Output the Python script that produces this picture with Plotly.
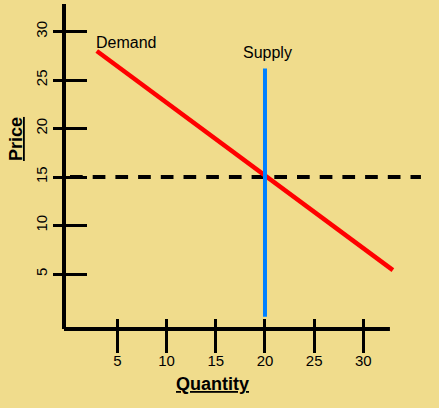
import plotly.graph_objects as go

# ---- data ----
tick_vals = [5, 10, 15, 20, 25, 30]
tick_text = ["5", "10", "15", "20", "25", "30"]

demand_q = [2.9, 33.0]
demand_p = [28.0, 5.4]

supply_q = [20, 20]
supply_p = [0.6, 26.2]

eq_price = 15
eq_line_q = [0.18, 35.85]

x_range = [-0.43, 35.96]
y_range = [-0.67, 32.84]
x_axis_end = 32.7

BG = "#F0DC8C"
FONT = "Liberation Sans, Arial, sans-serif"

fig = go.Figure()

fig.add_trace(go.Scatter(x=eq_line_q, y=[eq_price, eq_price], mode="lines",
                         line=dict(color="black", width=4, dash="12.7px,10px"),
                         showlegend=False, hoverinfo="skip"))
fig.add_trace(go.Scatter(x=demand_q, y=demand_p, mode="lines",
                         line=dict(color="#FF0000", width=4.5),
                         showlegend=False, hoverinfo="skip"))
fig.add_trace(go.Scatter(x=supply_q, y=supply_p, mode="lines",
                         line=dict(color="#0080FF", width=4),
                         showlegend=False, hoverinfo="skip"))
# dummy trace for the overlay axes (inner tick halves)
fig.add_trace(go.Scatter(x=[None], y=[None], xaxis="x2", yaxis="y2",
                         showlegend=False, hoverinfo="skip"))

axis_common = dict(showgrid=False, zeroline=False, showline=False, automargin=False,
                   tickmode="array", tickvals=tick_vals, ticktext=tick_text,
                   tickcolor="black", tickwidth=3,
                   tickfont=dict(family=FONT, size=15, color="black"))

fig.update_layout(
    template="none",
    width=439, height=408,
    margin=dict(l=64, r=17, t=4, b=79, pad=0),
    paper_bgcolor=BG, plot_bgcolor=BG,
    font=dict(family=FONT, color="black"),
    xaxis=dict(range=x_range, ticks="outside", ticklen=23, ticklabelstandoff=-5, **axis_common),
    yaxis=dict(range=y_range, ticks="outside", ticklen=10, tickangle=-90, **axis_common),
    xaxis2=dict(range=x_range, overlaying="x", anchor="y2", ticks="inside", ticklen=10,
                showticklabels=False, **axis_common),
    yaxis2=dict(range=y_range, overlaying="y", side="left", anchor="x2", ticks="inside",
                ticklen=23, showticklabels=False, **axis_common),
    showlegend=False,
)

frac_end = (x_axis_end - x_range[0]) / (x_range[1] - x_range[0])
fig.add_shape(type="line", xref="paper", yref="paper", x0=0, x1=frac_end, y0=0, y1=0,
              line=dict(color="black", width=4))
fig.add_shape(type="line", xref="paper", yref="paper", x0=0, x1=0, y0=0, y1=1,
              line=dict(color="black", width=4))

fig.add_annotation(x=2.6, y=28.9, text="Demand", showarrow=False, xanchor="left",
                   yanchor="middle", font=dict(family=FONT, size=16, color="black"))
fig.add_annotation(x=20.3, y=27.8, text="Supply", showarrow=False, xanchor="center",
                   yanchor="middle", font=dict(family=FONT, size=16, color="black"))

fig.add_annotation(xref="paper", yref="paper", x=(16 - 64) / 358, y=(329 - 139) / 325,
                   text="<b><u>Price</u></b>", textangle=-90, showarrow=False,
                   xanchor="center", yanchor="middle",
                   font=dict(family=FONT, size=18, color="black"))
fig.add_annotation(xref="paper", yref="paper", x=(212 - 64) / 358, y=(329 - 384) / 325,
                   text="<b><u>Quantity</u></b>", showarrow=False,
                   xanchor="center", yanchor="middle",
                   font=dict(family=FONT, size=18, color="black"))

fig.write_html("out.html",
               config={"displayModeBar": False},
               post_script="document.body.style.margin='0';document.body.style.overflow='hidden';"
                           f"document.body.style.background='{BG}';")
